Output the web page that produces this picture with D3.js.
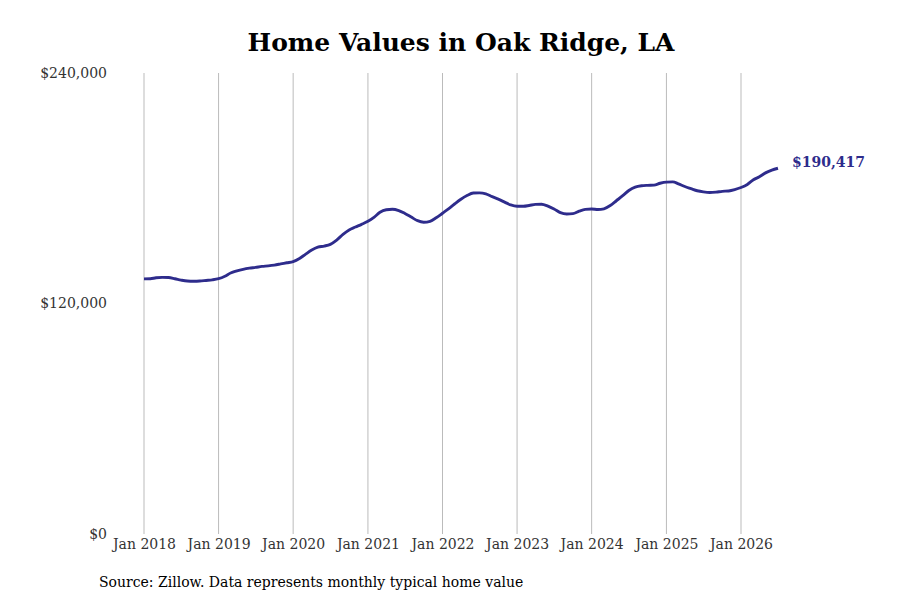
<!DOCTYPE html>
<html>
<head>
<meta charset="utf-8">
<style>
  body { margin: 0; background: #fff; }
  svg text { font-family: "DejaVu Serif", serif; }
  .grid line { stroke: #bbb; stroke-width: 1; }
  .tick text { fill: #333; font-size: 14px; }
</style>
</head>
<body>
<svg id="chart" width="900" height="600"></svg>
<script src="https://cdn.jsdelivr.net/npm/d3@7"></script>
<script>
// monthly typical home value, Jan 2018 .. Jul 2026
var startMonth = "2018-01";
var values = [
  132800, 132900, 133400, 133600, 133500, 132900, 132200, 131700, 131600, 131700, 132000, 132300,
  132900, 134200, 135900, 137000, 137800, 138400, 138800, 139300, 139600, 140000, 140600, 141200,
  141800, 143400, 145600, 147800, 149300, 149900, 150800, 153000, 156000, 158300, 159800, 161200,
  162800, 165000, 167500, 168800, 169100, 168400, 166900, 165000, 163100, 162300, 162800, 164600,
  167000, 169400, 171800, 174300, 176200, 177500, 177600, 177100, 175600, 174300, 172800, 171300,
  170600, 170600, 171000, 171600, 171700, 170700, 169200, 167300, 166600, 166800, 168100, 169000,
  169200, 168900, 169300, 171000, 173500, 176100, 178800, 180600, 181300, 181500, 181600, 182600,
  183200, 183300, 182300, 180900, 179800, 178700, 178100, 177800, 178000, 178400, 178600, 179300,
  180400, 182000, 184300, 186000, 188000, 189400, 190417
];
var yTicks = [0, 120000, 240000];
var xTickYears = [2018, 2019, 2020, 2021, 2022, 2023, 2024, 2025, 2026];

var parse = d3.timeParse("%Y-%m");
var t0 = parse(startMonth);
var data = values.map(function(v, i) { return { date: d3.timeMonth.offset(t0, i), value: v }; });

var svg = d3.select("#chart");
var x = d3.scaleTime()
    .domain([new Date(2018, 0, 1), new Date(2026, 0, 1)])
    .range([144, 741]);
var y = d3.scaleLinear().domain([0, 240000]).range([534, 73]);

// vertical grid
svg.append("g").attr("class", "grid")
  .selectAll("line")
  .data(xTickYears)
  .enter().append("line")
    .attr("x1", function(d) { return x(new Date(d, 0, 1)); })
    .attr("x2", function(d) { return x(new Date(d, 0, 1)); })
    .attr("y1", y(240000))
    .attr("y2", y(0));

// x axis labels
var xAxis = d3.axisBottom(x)
    .tickValues(xTickYears.map(function(d) { return new Date(d, 0, 1); }))
    .tickFormat(d3.timeFormat("Jan %Y"))
    .tickSize(0)
    .tickPadding(5);
svg.append("g").attr("transform", "translate(0,534)").call(xAxis)
  .call(function(g) { g.select(".domain").remove(); });

// y axis labels
var yAxis = d3.axisLeft(y)
    .tickValues(yTicks)
    .tickFormat(function(d) { return "$" + d3.format(",")(d); })
    .tickSize(0)
    .tickPadding(37);
svg.append("g").attr("transform", "translate(144,0)").call(yAxis)
  .call(function(g) { g.select(".domain").remove(); });

var line = d3.line()
    .x(function(d) { return x(d.date); })
    .y(function(d) { return y(d.value); })
    .curve(d3.curveMonotoneX);

svg.append("path")
    .datum(data)
    .attr("fill", "none")
    .attr("stroke", "#2e2c8c")
    .attr("stroke-width", 2.9)
    .attr("stroke-linejoin", "round")
    .attr("d", line);

var last = data[data.length - 1];
svg.append("text")
    .attr("x", x(last.date) + 14)
    .attr("y", y(last.value) - 1)
    .attr("font-size", 14)
    .attr("font-weight", "bold")
    .attr("fill", "#2e2c8c")
    .text("$" + d3.format(",")(last.value));

svg.append("text")
    .attr("x", 461)
    .attr("y", 51)
    .attr("text-anchor", "middle")
    .attr("font-size", 25)
    .attr("font-weight", "bold")
    .attr("fill", "#000")
    .text("Home Values in Oak Ridge, LA");

svg.append("text")
    .attr("x", 99)
    .attr("y", 587)
    .attr("font-size", 14)
    .attr("fill", "#000")
    .text("Source: Zillow. Data represents monthly typical home value");
</script>
</body>
</html>
